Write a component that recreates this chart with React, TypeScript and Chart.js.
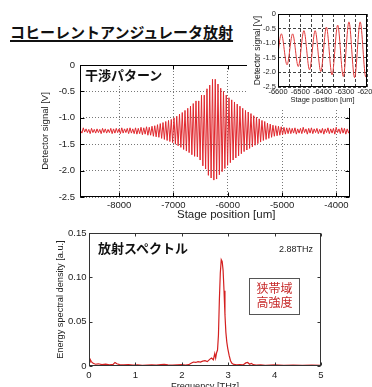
import React, { useEffect, useRef } from 'react';
import { Chart, registerables } from 'chart.js';

Chart.register(...registerables);

// ---------- data ----------
// Interferogram: stage scanned on a uniform grid; one max and one min read per fringe
const SCAN_START_UM = -8710;
const SCAN_PERIOD_UM = 50.6;
const scanPeaks = [
  -1.24, -1.19, -1.21, -1.22, -1.20, -1.22, -1.21, -1.22, -1.20, -1.21,
  -1.22, -1.20, -1.21, -1.20, -1.21, -1.19, -1.21, -1.20, -1.19, -1.21,
  -1.19, -1.20, -1.18, -1.19, -1.17, -1.18, -1.16, -1.15, -1.13, -1.11,
  -1.09, -1.07, -1.05, -1.03, -1.00, -0.97, -0.93, -0.90, -0.86, -0.82,
  -0.78, -0.73, -0.68, -0.68, -0.57, -0.57, -0.45, -0.38, -0.27, -0.27,
  -0.36, -0.44, -0.50, -0.57, -0.62, -0.66, -0.70, -0.74, -0.78, -0.82,
  -0.86, -0.89, -0.92, -0.96, -0.99, -1.02, -1.05, -1.07, -1.10, -1.12,
  -1.14, -1.15, -1.16, -1.17, -1.18, -1.19, -1.19, -1.20, -1.19, -1.21,
  -1.20, -1.18, -1.21, -1.20, -1.19, -1.21, -1.20, -1.22, -1.20, -1.21,
  -1.19, -1.21, -1.20, -1.18, -1.21, -1.19, -1.20, -1.21, -1.20,
];
const scanTroughs = [
  -1.29, -1.27, -1.28, -1.30, -1.28, -1.29, -1.28, -1.30, -1.28, -1.29,
  -1.28, -1.30, -1.29, -1.28, -1.30, -1.29, -1.28, -1.30, -1.29, -1.30,
  -1.31, -1.30, -1.32, -1.31, -1.33, -1.33, -1.35, -1.36, -1.37, -1.39,
  -1.41, -1.43, -1.45, -1.47, -1.50, -1.53, -1.56, -1.60, -1.63, -1.66,
  -1.70, -1.73, -1.74, -1.80, -1.91, -1.97, -2.09, -2.14, -2.18, -2.16,
  -2.08, -2.02, -1.96, -1.90, -1.85, -1.80, -1.76, -1.72, -1.68, -1.64,
  -1.61, -1.58, -1.55, -1.52, -1.49, -1.46, -1.43, -1.41, -1.39, -1.37,
  -1.35, -1.34, -1.33, -1.32, -1.31, -1.30, -1.30, -1.29, -1.31, -1.29,
  -1.30, -1.28, -1.31, -1.29, -1.30, -1.28, -1.30, -1.29, -1.31, -1.28,
  -1.30, -1.29, -1.31, -1.28, -1.30, -1.29, -1.31, -1.29,
];
const mainXTicks = [-8000, -7000, -6000, -5000, -4000];
const mainYTicks = [0, -0.5, -1, -1.5, -2, -2.5];
const insetXTicks = [-6600, -6550, -6500, -6450, -6400, -6350, -6300, -6250, -6200];

// Spectrum
const specFreq = [
  0, 0.02, 0.05, 0.09, 0.14, 0.2, 0.28, 0.36, 0.44, 0.52, 0.56, 0.6, 0.66, 0.75,
  0.85, 0.95, 1.05, 1.15, 1.25, 1.35, 1.45, 1.55, 1.62, 1.7, 1.8, 1.9, 2.0, 2.08,
  2.15, 2.2, 2.25, 2.3, 2.35, 2.4, 2.45, 2.5, 2.55, 2.6, 2.64, 2.68, 2.71, 2.73,
  2.75, 2.77, 2.79, 2.81, 2.83, 2.85, 2.87, 2.89, 2.91, 2.93, 2.95, 2.97, 2.99,
  3.02, 3.05, 3.08, 3.12, 3.18, 3.25, 3.32, 3.38, 3.42, 3.46, 3.5, 3.54, 3.6, 3.7,
  3.8, 3.9, 4.0, 4.2, 4.4, 4.6, 4.8, 5.0,
];
const specDensity = [
  0.004, 0.008, 0.005, 0.003, 0.002, 0.0025, 0.0015, 0.002, 0.0012, 0.0018, 0.004, 0.0025, 0.0015, 0.0012,
  0.0015, 0.001, 0.0012, 0.0008, 0.001, 0.0012, 0.0009, 0.0015, 0.0018, 0.0012, 0.001, 0.0012, 0.0015, 0.001,
  0.0015, 0.003, 0.0045, 0.004, 0.005, 0.0045, 0.0055, 0.006, 0.005, 0.0075, 0.009, 0.007, 0.014, 0.009,
  0.015, 0.018, 0.035, 0.075, 0.105, 0.12, 0.118, 0.108, 0.085, 0.058, 0.038, 0.027, 0.02,
  0.012, 0.006, 0.003, 0.0018, 0.0012, 0.0015, 0.0012, 0.0035, 0.004, 0.002, 0.003, 0.0015, 0.001, 0.0012,
  0.0008, 0.001, 0.0012, 0.0008, 0.001, 0.0008, 0.001, 0.0008,
];

const TITLE = 'コヒーレントアンジュレータ放射';
const MAIN_LABEL = '干渉パターン';
const SPEC_LABEL = '放射スペクトル';
const PEAK_LABEL = '2.88THz';
const NOTE_LINES = ['狭帯域', '高強度'];

// ---------- helpers ----------
const FONT = '"Liberation Sans", Arial, sans-serif';
const JP = '"Noto Sans CJK JP", "Noto Sans CJK SC", sans-serif';

function scanPoints() {
  const pts: { x: number; y: number }[] = [];
  for (let i = 0; i < scanPeaks.length; i++) {
    pts.push({ x: SCAN_START_UM + i * SCAN_PERIOD_UM, y: scanPeaks[i] });
    if (i < scanTroughs.length) {
      pts.push({ x: SCAN_START_UM + (i + 0.5) * SCAN_PERIOD_UM, y: scanTroughs[i] });
    }
  }
  return pts;
}

const fixedTicks = (vals: number[]) => (s: any) => { s.ticks = vals.map((v) => ({ value: v })); };

const boxPlugin = {
  id: 'box',
  afterDatasetsDraw(chart: any, _a: any, opts: any) {
    const { ctx, chartArea: a, scales } = chart;
    const L = Math.round(a.left) + 0.5;
    const R = Math.round(a.right) - 0.5;
    const T = Math.round(a.top) + 0.5;
    const B = Math.round(a.bottom) - 0.5;
    ctx.save();
    ctx.strokeStyle = opts.color || '#000';
    ctx.lineWidth = 1;
    ctx.setLineDash([]);
    ctx.strokeRect(L, T, R - L, B - T);
    const len = opts.tick || 0;
    if (len > 0) {
      ctx.beginPath();
      for (const t of scales.x.ticks) {
        const p = Math.round(scales.x.getPixelForValue(t.value)) + 0.5;
        ctx.moveTo(p, B); ctx.lineTo(p, B - len);
        ctx.moveTo(p, T); ctx.lineTo(p, T + len);
      }
      for (const t of scales.y.ticks) {
        const p = Math.round(scales.y.getPixelForValue(t.value)) + 0.5;
        ctx.moveTo(L, p); ctx.lineTo(L + len, p);
        ctx.moveTo(R, p); ctx.lineTo(R - len, p);
      }
      ctx.stroke();
    }
    ctx.restore();
  },
};

export default function App() {
  const mainRef = useRef<HTMLCanvasElement>(null);
  const insetRef = useRef<HTMLCanvasElement>(null);
  const specRef = useRef<HTMLCanvasElement>(null);

  useEffect(() => {
    Chart.defaults.font.family = FONT;
    Chart.defaults.color = '#222';
    const pts = scanPoints();
    const charts: Chart[] = [];

    charts.push(
      new Chart(mainRef.current!, {
        type: 'line',
        data: {
          datasets: [{ data: pts, borderColor: '#e0282e', borderWidth: 1, pointRadius: 0, tension: 0 }],
        },
        options: {
          animation: false,
          responsive: false,
          maintainAspectRatio: false,
          layout: { padding: { left: 35, right: 22, top: 15, bottom: 0 } },
          plugins: { legend: { display: false }, tooltip: { enabled: false }, box: { tick: 4 } } as any,
          scales: {
            x: {
              type: 'linear', min: -8720, max: -3750,
              afterBuildTicks: fixedTicks(mainXTicks),
              afterFit: (s: any) => { s.height = 28; },
              ticks: { autoSkip: false, maxRotation: 0, padding: 2.3,
                font: { size: 9.5 }, callback: (v: any) => String(v) },
              grid: { color: '#777', drawTicks: false },
              border: { display: false, dash: [1, 2] },
              title: { display: true, text: '       Stage position [um]', font: { size: 11.5 }, padding: { top: 0, bottom: 3 } },
            } as any,
            y: {
              type: 'linear', min: -2.5, max: 0,
              afterBuildTicks: fixedTicks(mainYTicks),
              afterFit: (s: any) => { s.width = 45; },
              ticks: { padding: 5, font: { size: 9.5 } },
              grid: { color: '#777', drawTicks: false },
              border: { display: false, dash: [1, 2] },
              title: { display: true, text: 'Detector signal [V]', font: { size: 9.5 }, padding: { top: 4.3, bottom: 0 } },
            } as any,
          },
        },
        plugins: [boxPlugin],
      } as any)
    );

    charts.push(
      new Chart(insetRef.current!, {
        type: 'line',
        data: {
          datasets: [{ data: pts, borderColor: '#e03a3a', borderWidth: 1, pointRadius: 0, cubicInterpolationMode: 'monotone' }],
        },
        options: {
          animation: false,
          responsive: false,
          maintainAspectRatio: false,
          layout: { padding: { left: 0, right: 20, top: 14, bottom: 0 } },
          plugins: { legend: { display: false }, tooltip: { enabled: false }, box: { tick: 0 } } as any,
          scales: {
            x: {
              type: 'linear', min: -6600, max: -6200,
              afterBuildTicks: fixedTicks(insetXTicks),
              afterFit: (s: any) => { s.height = 21; },
              ticks: { autoSkip: false, maxRotation: 0, padding: 0, font: { size: 7.5 },
                callback: (v: any) => (Math.round(v) % 100 === 0 ? String(v) : '') },
              grid: { color: '#444', drawTicks: false },
              border: { display: false, dash: [3, 2] },
              title: { display: true, text: 'Stage position [um]', font: { size: 7.5 }, padding: { top: 0, bottom: 3.5 } },
            } as any,
            y: {
              type: 'linear', min: -2.5, max: 0,
              afterBuildTicks: fixedTicks(mainYTicks),
              afterFit: (s: any) => { s.width = 31; },
              ticks: { padding: 2, font: { size: 7.5 } },
              grid: { color: '#444', drawTicks: false },
              border: { display: false, dash: [3, 2] },
              title: { display: true, text: 'Detector signal [V]', font: { size: 8.5 }, padding: { top: 6, bottom: 0 } },
            } as any,
          },
        },
        plugins: [boxPlugin],
      } as any)
    );

    charts.push(
      new Chart(specRef.current!, {
        type: 'line',
        data: {
          datasets: [{ data: specFreq.map((f, i) => ({ x: f, y: specDensity[i] })), borderColor: '#d42020', borderWidth: 1.2, pointRadius: 0, tension: 0 }],
        },
        options: {
          animation: false,
          responsive: false,
          maintainAspectRatio: false,
          layout: { padding: { left: 50, right: 51, top: 8, bottom: 0 } },
          plugins: { legend: { display: false }, tooltip: { enabled: false }, box: { tick: 3, color: '#333' } } as any,
          scales: {
            x: {
              type: 'linear', min: 0, max: 5,
              ticks: { stepSize: 1, autoSkip: false, maxRotation: 0, padding: 3.3, font: { size: 9.5 } },
              afterFit: (s: any) => { s.height = 29; },
              grid: { display: false, drawTicks: false },
              border: { display: false },
              title: { display: true, text: 'Frequency [THz]', font: { size: 9.2 }, padding: { top: 0, bottom: 3.5 } },
            } as any,
            y: {
              type: 'linear', min: 0, max: 0.15,
              ticks: { stepSize: 0.05, padding: 2.5, font: { size: 9.5 } },
              afterFit: (s: any) => { s.width = 39; },
              grid: { display: false, drawTicks: false },
              border: { display: false },
              title: { display: true, text: 'Energy spectral density [a.u.]', font: { size: 9.2 }, padding: { top: 4.5, bottom: 0 } },
            } as any,
          },
        },
        plugins: [boxPlugin],
      } as any)
    );

    return () => charts.forEach((c) => c.destroy());
  }, []);

  const abs = (l: number, t: number): React.CSSProperties => ({ position: 'absolute', left: l, top: t });

  return (
    <div style={{ position: 'fixed', left: 0, top: 0, width: 372, height: 387, overflow: 'hidden', background: '#fff' }}>
      <canvas ref={mainRef} width={372} height={175} style={{ ...abs(0, 50) }} />
      <canvas ref={insetRef} width={140} height={108} style={{ ...abs(247, 0), background: '#fff' }} />
      <canvas ref={specRef} width={372} height={170} style={{ ...abs(0, 225) }} />

      <div style={{ ...abs(10, 24), font: `bold 15px ${JP}`, lineHeight: '16px', color: '#111', whiteSpace: 'nowrap',
        textDecoration: 'underline', textDecorationThickness: '1.5px', textUnderlineOffset: '2px' }}>{TITLE}</div>

      <div style={{ ...abs(81, 66), width: 90, height: 18, background: '#fff', paddingLeft: 4, boxSizing: 'border-box',
        font: `bold 13px ${JP}`, lineHeight: '18px', color: '#111', whiteSpace: 'nowrap' }}>{MAIN_LABEL}</div>

      <div style={{ ...abs(98, 240), font: `bold 13px ${JP}`, lineHeight: '16px', color: '#111', whiteSpace: 'nowrap' }}>{SPEC_LABEL}</div>

      <div style={{ ...abs(279, 244), font: `9px ${FONT}`, lineHeight: '10px', color: '#222', whiteSpace: 'nowrap' }}>{PEAK_LABEL}</div>

      <div style={{ ...abs(249, 278), width: 51, height: 37, boxSizing: 'border-box', border: '1px solid #555', paddingTop: 2,
        textAlign: 'center', font: `12px ${JP}`, lineHeight: '14.4px', color: '#c62828' }}>
        {NOTE_LINES.map((s) => (<div key={s}>{s}</div>))}
      </div>
    </div>
  );
}
